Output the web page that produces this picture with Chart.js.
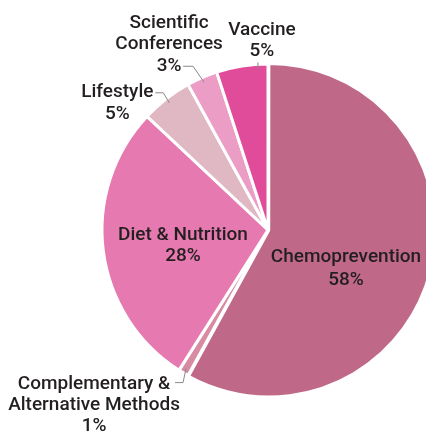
<!DOCTYPE html>
<html>
<head>
<meta charset="utf-8">
<script src="https://cdn.jsdelivr.net/npm/chart.js@4.4.0/dist/chart.umd.min.js"></script>
<style>
  html, body { margin: 0; padding: 0; background: #fff; overflow: hidden; width: 426px; height: 433px; }
  #wrap { position: absolute; left: 0; top: 0; width: 536px; height: 460px; }
</style>
</head>
<body>
<div id="wrap"><canvas id="pieChart"></canvas></div>
<script>
// =====================
// DATA
// =====================
const categories = ['Chemoprevention', 'Complementary & Alternative Methods', 'Diet & Nutrition', 'Lifestyle', 'Scientific Conferences', 'Vaccine'];
const shares = [58, 1, 28, 5, 3, 5];
const labelLines = [
  ['Chemoprevention'],
  ['Complementary &', 'Alternative Methods'],
  ['Diet & Nutrition'],
  ['Lifestyle'],
  ['Scientific', 'Conferences'],
  ['Vaccine']
];
const sliceColors = ['#c06888', '#d88ca3', '#e67ab0', '#e0b8c4', '#ec9dc5', '#e04b9a'];

// label placement (pixels, relative to slice anchor / pie centre)
const placement = [
  { inside: true, dx: 78, dy: 27, lh: 23 },
  { frac: 0.5, leader: [[-3, 14], [-11, 14]], dx: -92, dy: 16, lh: 21 },
  { inside: true, dx: -85, dy: 5, lh: 21 },
  { frac: 0.5, leader: [[-6, -10], [-14, -10]], dx: -52, dy: -11, lh: 22 },
  { frac: 0.5, leader: [[-11, -16], [-21, -16]], dx: -35, dy: -59, lh: 21.5 },
  { frac: 0.8, leader: [[0, -7]], dx: 4, dy: -39, lh: 21 }
];

// =====================
// LABEL PLUGIN
// =====================
const sliceLabels = {
  id: 'sliceLabels',
  afterDraw(chart) {
    const ctx = chart.ctx;
    const arcs = chart.getDatasetMeta(0).data;
    ctx.save();
    ctx.font = '500 19px Roboto, "Liberation Sans", sans-serif';
    ctx.fillStyle = '#231f20';
    ctx.textAlign = 'center';
    ctx.textBaseline = 'middle';
    ctx.strokeStyle = '#8a8a8a';
    ctx.lineWidth = 1;

    placement.forEach((p, i) => {
      const arc = arcs[i];
      const lines = labelLines[i].concat(shares[i] + '%');

      if (p.inside) {
        lines.forEach((t, k) => ctx.fillText(t, arc.x + p.dx, arc.y + p.dy + k * p.lh));
        return;
      }

      const a = arc.startAngle + (arc.endAngle - arc.startAngle) * p.frac;
      const r = arc.outerRadius - 5;
      const ax = arc.x + Math.cos(a) * r;
      const ay = arc.y + Math.sin(a) * r;

      ctx.beginPath();
      ctx.moveTo(ax, ay);
      p.leader.forEach(([lx, ly]) => ctx.lineTo(ax + lx, ay + ly));
      ctx.stroke();

      lines.forEach((t, k) => ctx.fillText(t, ax + p.dx, ay + p.dy + k * p.lh));
    });
    ctx.restore();
  }
};

// =====================
// CHART
// =====================
new Chart(document.getElementById('pieChart'), {
  type: 'pie',
  data: {
    labels: categories,
    datasets: [{
      data: shares,
      backgroundColor: sliceColors,
      borderColor: '#ffffff',
      borderWidth: 3,
      offset: [3, 0, 0, 0, 0, 0],
      hoverOffset: 0
    }]
  },
  options: {
    responsive: true,
    maintainAspectRatio: false,
    animation: false,
    radius: 166,
    layout: { padding: 0 },
    plugins: {
      legend: { display: false },
      tooltip: { enabled: false }
    }
  },
  plugins: [sliceLabels]
});
</script>
</body>
</html>
